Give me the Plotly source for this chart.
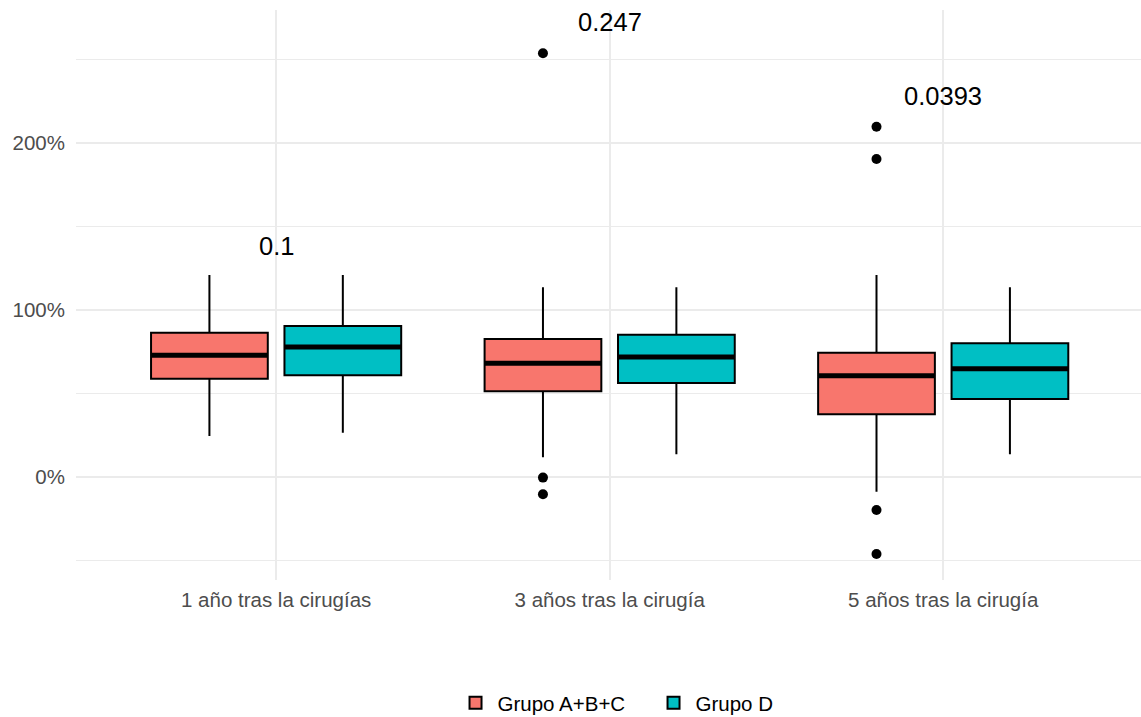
import plotly.graph_objects as go

# Periods after surgery (x categories)
categories = ["1 año tras la cirugías", "3 años tras la cirugía", "5 años tras la cirugía"]
groups = ["Grupo A+B+C", "Grupo D"]
colors = ["#F8766D", "#00BFC4"]

# Box statistics per group, in percent (one value per period)
lower_abc = [24.7, 12.0, -8.6]
q1_abc = [59.0, 51.5, 37.7]
median_abc = [73.0, 68.3, 60.8]
q3_abc = [86.6, 82.8, 74.6]
upper_abc = [121.1, 113.8, 121.1]

lower_d = [26.7, 13.8, 13.8]
q1_d = [61.1, 56.5, 46.9]
median_d = [78.0, 72.0, 65.0]
q3_d = [90.6, 85.4, 80.2]
upper_d = [121.1, 113.8, 113.8]

# Outliers of Grupo A+B+C: (period index, value in percent)
outlier_period = [1, 1, 1, 2, 2, 2, 2]
outlier_value = [253.9, -0.2, -10.2, 209.9, 190.6, -19.6, -45.9]

# p-values shown above each period
pvalue_text = ["0.1", "0.247", "0.0393"]
pvalue_y = [138.7, 272.8, 228.5]

# y-axis ticks
y_ticks = [0, 100, 200]
y_tick_labels = ["0%", "100%", "200%"]
y_minor_ticks = [-50, 50, 150, 250]

stats = [
    (lower_abc, q1_abc, median_abc, q3_abc, upper_abc),
    (lower_d, q1_d, median_d, q3_d, upper_d),
]

dodge = [-0.2, 0.2]
box_width = 0.35
font_family = "Liberation Sans, Arial, sans-serif"

fig = go.Figure()

for g, (name, color, st) in enumerate(zip(groups, colors, stats)):
    lo, q1, med, q3, hi = st
    xs = [i + dodge[g] for i in range(len(categories))]
    fig.add_trace(go.Box(
        name=name,
        x=xs,
        lowerfence=lo, q1=q1, median=med, q3=q3, upperfence=hi,
        width=box_width,
        fillcolor=color,
        line=dict(color="black", width=2),
        whiskerwidth=0,
        boxpoints=False,
        hoverinfo="skip",
        showlegend=True,
    ))

# Thick median bars drawn over the boxes
for g, st in enumerate(stats):
    med = st[2]
    mx, my = [], []
    for i, m in enumerate(med):
        c = i + dodge[g]
        mx += [c - box_width / 2, c + box_width / 2, None]
        my += [m, m, None]
    fig.add_trace(go.Scatter(
        x=mx, y=my, mode="lines",
        line=dict(color="black", width=5),
        showlegend=False, hoverinfo="skip",
    ))

# Outlier points
fig.add_trace(go.Scatter(
    x=[p + dodge[0] for p in outlier_period],
    y=outlier_value,
    mode="markers",
    marker=dict(color="black", size=10),
    showlegend=False, hoverinfo="skip",
))

for i, (txt, yv) in enumerate(zip(pvalue_text, pvalue_y)):
    fig.add_annotation(
        x=i, y=yv, text=txt, showarrow=False,
        font=dict(family=font_family, size=25.5, color="black"),
        xanchor="center", yanchor="middle",
    )

grid_color = "#EBEBEB"

fig.update_layout(
    width=1141, height=717,
    margin=dict(l=76, r=0, t=10, b=137, autoexpand=False),
    paper_bgcolor="white", plot_bgcolor="white",
    font=dict(family=font_family, size=20.5, color="#4D4D4D"),
    xaxis=dict(
        range=[-0.6, 2.593],
        tickmode="array",
        tickvals=list(range(len(categories))),
        ticktext=categories,
        showgrid=True, gridcolor=grid_color, gridwidth=2,
        zeroline=False, showline=False,
        ticks="", ticklabelstandoff=5,
        automargin=False,
        tickfont=dict(size=20.5, color="#4D4D4D"),
    ),
    yaxis=dict(
        range=[-61.5, 279.8],
        tickmode="array",
        tickvals=y_ticks,
        ticktext=y_tick_labels,
        showgrid=True, gridcolor=grid_color, gridwidth=2,
        minor=dict(tickmode="array", tickvals=y_minor_ticks,
                   showgrid=True, gridcolor=grid_color, gridwidth=1),
        zeroline=False, showline=False,
        ticks="", ticklabelstandoff=10,
        automargin=False,
        tickfont=dict(size=20.5, color="#4D4D4D"),
    ),
    legend=dict(
        orientation="h",
        x=0.5404, xanchor="center",
        yref="container",
        y=1 - 703 / 717, yanchor="middle",
        font=dict(size=20.5, color="black"),
        bgcolor="rgba(0,0,0,0)",
        entrywidth=149, entrywidthmode="pixels",
        itemwidth=34,
    ),
    showlegend=True,
)

fig.write_html("out.html")
